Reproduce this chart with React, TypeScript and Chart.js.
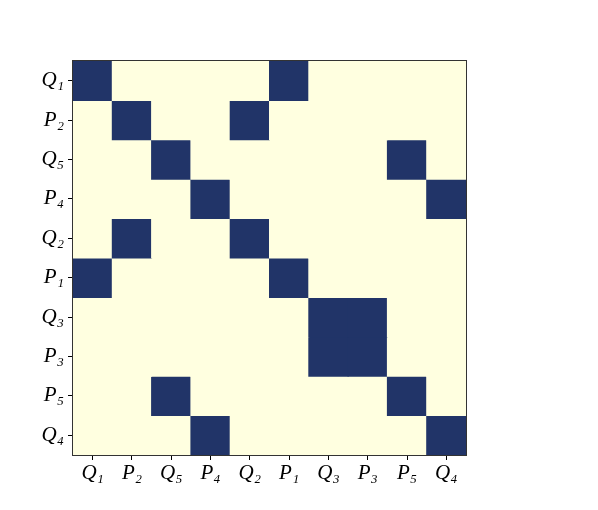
import React, { useEffect, useRef } from "react";
import { Chart, registerables } from "chart.js";

Chart.register(...registerables);

const labels = ["Q₁", "P₂", "Q₅", "P₄", "Q₂", "P₁", "Q₃", "P₃", "P₅", "Q₄"];

const rowQ1 = [1, 0, 0, 0, 0, 1, 0, 0, 0, 0];
const rowP2 = [0, 1, 0, 0, 1, 0, 0, 0, 0, 0];
const rowQ5 = [0, 0, 1, 0, 0, 0, 0, 0, 1, 0];
const rowP4 = [0, 0, 0, 1, 0, 0, 0, 0, 0, 1];
const rowQ2 = [0, 1, 0, 0, 1, 0, 0, 0, 0, 0];
const rowP1 = [1, 0, 0, 0, 0, 1, 0, 0, 0, 0];
const rowQ3 = [0, 0, 0, 0, 0, 0, 1, 1, 0, 0];
const rowP3 = [0, 0, 0, 0, 0, 0, 1, 1, 0, 0];
const rowP5 = [0, 0, 1, 0, 0, 0, 0, 0, 1, 0];
const rowQ4 = [0, 0, 0, 1, 0, 0, 0, 0, 0, 1];

const matrix = [rowQ1, rowP2, rowQ5, rowP4, rowQ2, rowP1, rowQ3, rowP3, rowP5, rowQ4];

const LOW = "#ffffe0";
const HIGH = "#213468";

const framePlugin = {
  id: "frame",
  afterDraw(chart: any) {
    const { ctx, chartArea } = chart;
    ctx.save();
    ctx.strokeStyle = "#333333";
    ctx.lineWidth = 1;
    ctx.strokeRect(
      Math.round(chartArea.left) - 0.5,
      Math.round(chartArea.top) - 0.5,
      Math.round(chartArea.right - chartArea.left) + 1,
      Math.round(chartArea.bottom - chartArea.top) + 1
    );
    ctx.restore();
  },
};

export default function App() {
  const ref = useRef<HTMLCanvasElement | null>(null);

  useEffect(() => {
    if (!ref.current) return;
    const font = { family: "'Liberation Serif', 'DejaVu Serif', serif", size: 21, style: "italic" as const };
    const chart = new Chart(ref.current, {
      type: "bar",
      data: {
        labels,
        datasets: matrix.map((row, i) => ({
          label: labels[i],
          data: row.map(() => 1),
          backgroundColor: row.map((v) => (v ? HIGH : LOW)),
          borderWidth: 0,
          barPercentage: 1,
          categoryPercentage: 1,
          inflateAmount: 0.5,
          stack: "s",
        })),
      },
      options: {
        animation: false,
        responsive: true,
        maintainAspectRatio: false,
        layout: { padding: { left: 13, right: 132, top: 61, bottom: 15 } },
        plugins: { legend: { display: false }, tooltip: { enabled: false } },
        scales: {
          x: {
            type: "category",
            stacked: true,
            offset: true,
            grid: { display: true, offset: false, drawOnChartArea: false, tickLength: 5, tickColor: "#000", tickWidth: 1 },
            border: { display: true, color: "#333", width: 1 },
            ticks: { font, color: "#000", maxRotation: 0, autoSkip: false, padding: 1 },
            afterFit: (s: any) => {
              s.height = 40;
            },
          },
          y: {
            type: "linear",
            stacked: true,
            reverse: true,
            min: 0,
            max: 10,
            grid: { display: true, drawOnChartArea: false, tickLength: 5, tickColor: "#000", tickWidth: 1 },
            border: { display: true, color: "#333", width: 1 },
            afterBuildTicks: (s: any) => {
              s.ticks = labels.map((_, i) => ({ value: i + 0.5 }));
            },
            ticks: {
              font,
              color: "#000",
              autoSkip: false,
              padding: 4,
              callback: (v: any) => labels[Math.round(Number(v) - 0.5)],
            },
            afterFit: (s: any) => {
              s.width = 60;
            },
          },
        },
      },
      plugins: [framePlugin],
    });
    return () => chart.destroy();
  }, []);

  return (
    <div style={{ position: "absolute", left: 0, top: 0, width: 598, height: 510, background: "#fff" }}>
      <canvas ref={ref} />
    </div>
  );
}
